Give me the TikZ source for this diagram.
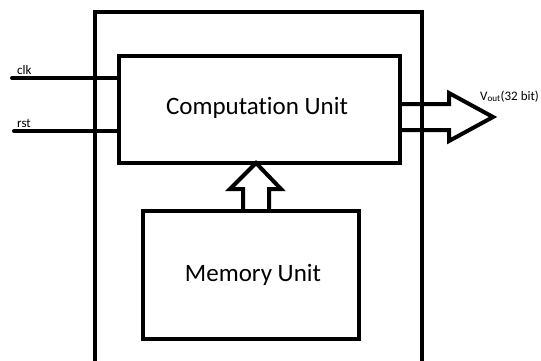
\documentclass[tikz,border=0pt]{standalone}
\usepackage{fontspec}
\setmainfont{Carlito}[Ligatures={NoCommon,NoContextual}]
\begin{document}
\begin{tikzpicture}[x=1pt,y=-1pt,
  wire/.style={line width=4pt},
  unitbox/.style={draw,line width=4pt,rectangle,inner sep=0pt,outer sep=0pt},
  bigtext/.style={font=\fontsize{25}{28}\selectfont,anchor=base,inner sep=0pt},
  sigtext/.style={font=\fontsize{13}{15}\selectfont,anchor=base west,inner sep=0pt}]
\useasboundingbox (0,0) rectangle (541,360);
\clip (0,0) rectangle (541,360);
\fill[white] (0,0) rectangle (541,360);

% outer enclosure (runs past the lower edge)
\node[unitbox,minimum width=327pt,minimum height=352pt] (chip) at (258,188) {};

% inner units
\node[unitbox,minimum width=281pt,minimum height=107pt] (comp) at (259.5,109.5) {};
\node[unitbox,minimum width=216pt,minimum height=128pt] (mem) at (251,275) {};
\node[bigtext] (comptext) at (257,114) {Computation Unit};
\node[bigtext] (memtext) at (253,281) {Memory Unit};

% input signals
\coordinate (clkin) at (12,78);
\coordinate (rstin) at (14,131);
\draw[wire,line cap=round] (clkin) -- (clkin -| comp.west);
\draw[wire,line cap=round] (rstin) -- (rstin -| comp.west);
\node[sigtext] (clk) at (17,74) {clk};
\node[sigtext] (rst) at (17,127) {rst};

% memory to computation: hollow up arrow
\draw[wire,line join=miter]
  (243,0 |- mem.north) -- (243,189) -- (230,189) -- (256,0 |- comp.south)
  -- (281,189) -- (269,189) -- (269,0 |- mem.north);

% 32-bit output bus: hollow right arrow
\draw[wire,line join=miter]
  (comp.east |- 0,104) -- (449,104) -- (449,93) -- (493,117)
  -- (449,141) -- (449,130) -- (comp.east |- 0,130);
\node[font=\fontsize{13}{15}\selectfont,anchor=base west,inner sep=0pt] (vout)
  at (480,100) {V\textsubscript{out}(32 bit)};
\end{tikzpicture}
\end{document}
